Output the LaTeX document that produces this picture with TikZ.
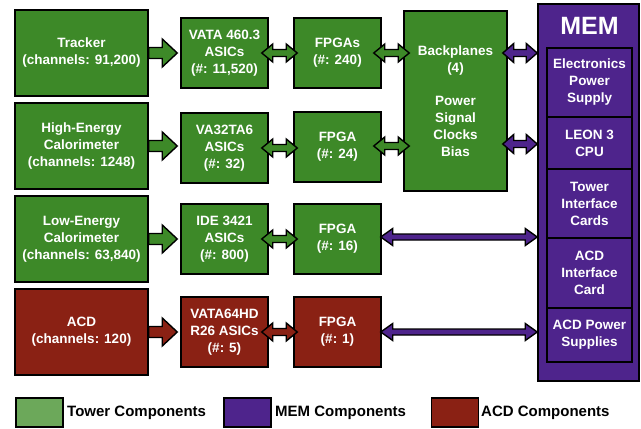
\documentclass[tikz,border=0pt]{standalone}
\usepackage{fontspec}
\setmainfont{Liberation Sans}
\usetikzlibrary{calc}
\definecolor{tgreen}{RGB}{61,137,40}
\definecolor{lgreen}{RGB}{108,168,90}
\definecolor{acdred}{RGB}{138,33,20}
\definecolor{mempurple}{RGB}{78,36,140}
\tikzset{
  box/.style={draw=black,line width=1.5pt,text=white,align=center,inner sep=0pt,
    font=\bfseries\fontsize{13.5}{17}\selectfont},
  gbox/.style={box,fill=tgreen},
  rbox/.style={box,fill=acdred},
  pbox/.style={box,fill=mempurple},
  arrowline/.style={draw=black,line width=1.4pt,line join=miter},
  legsq/.style={draw=black,line width=1.5pt,minimum width=47pt,minimum height=29pt,inner sep=0pt},
  legtext/.style={anchor=west,inner sep=0pt,font=\bfseries\fontsize{15}{18}\selectfont}
}
% from, to, shaft half, head half, head length, colour
\newcommand\fatarrow[6]{\path[arrowline,fill=#6] let \p1=(#1), \p2=(#2) in
  (\x1,\y1+#3) -- (\x2-#5,\y1+#3) -- (\x2-#5,\y1+#4) -- (\x2,\y1) -- (\x2-#5,\y1-#4) -- (\x2-#5,\y1-#3) -- (\x1,\y1-#3) -- cycle;}
\newcommand\dblarrow[6]{\path[arrowline,fill=#6] let \p1=(#1), \p2=(#2) in
  (\x1,\y1) -- (\x1+#5,\y1+#4) -- (\x1+#5,\y1+#3) -- (\x2-#5,\y1+#3) -- (\x2-#5,\y1+#4) -- (\x2,\y1) -- (\x2-#5,\y1-#4) -- (\x2-#5,\y1-#3) -- (\x1+#5,\y1-#3) -- (\x1+#5,\y1-#4) -- cycle;}
\begin{document}
\begin{tikzpicture}[x=1pt,y=-1pt]
\useasboundingbox (0,0) rectangle (641,429);
% detectors
\node[gbox,minimum width=133pt,minimum height=86pt] (trk) at (81.5,53) {Tracker\\(channels: 91,200)};
\node[gbox,minimum width=133pt,minimum height=86pt] (hec) at (81.5,146) {High-Energy\\Calorimeter\\(channels: 1248)};
\node[gbox,minimum width=133pt,minimum height=86pt] (lec) at (81.5,239) {Low-Energy\\Calorimeter\\(channels: 63,840)};
\node[rbox,minimum width=133pt,minimum height=86pt] (acd) at (81.5,332) {ACD\\(channels: 120)};
% ASICs
\node[gbox,minimum width=87pt,minimum height=70pt] (tasic) at (224.5,53) {VATA 460.3\\ASICs\\(\#: 11,520)};
\node[gbox,minimum width=87pt,minimum height=70pt] (hasic) at (224.5,148) {VA32TA6\\ASICs\\(\#: 32)};
\node[gbox,minimum width=87pt,minimum height=70pt] (lasic) at (224.5,239) {IDE 3421\\ASICs\\(\#: 800)};
\node[rbox,minimum width=87pt,minimum height=70pt] (aasic) at (224.5,332) {VATA64HD\\R26 ASICs\\(\#: 5)};
% FPGAs
\node[gbox,minimum width=87pt,minimum height=70pt] (tfpga) at (337.5,53) {FPGAs\\(\#: 240)};
\node[gbox,minimum width=87pt,minimum height=70pt] (hfpga) at (337.5,147) {FPGA\\(\#: 24)};
\node[gbox,minimum width=87pt,minimum height=70pt] (lfpga) at (337.5,239) {FPGA\\(\#: 16)};
\node[rbox,minimum width=87pt,minimum height=70pt] (afpga) at (337.5,332) {FPGA\\(\#: 1)};
% backplanes
\node[gbox,minimum width=103pt,minimum height=180pt] (bp) at (455.5,101) {Backplanes\\(4)\\[16pt]Power\\Signal\\Clocks\\Bias};
% MEM
\node[pbox,minimum width=101pt,minimum height=377pt] (mem) at (588.5,192.5) {};
\node[text=white,font=\bfseries\fontsize{25}{25}\selectfont,inner sep=0pt] (memt) at (589.5,26) {MEM};
\node[pbox,minimum width=85pt,minimum height=69pt] (eps) at (589.5,82.5) {Electronics\\Power\\Supply};
\node[pbox,minimum width=85pt,minimum height=52pt] (leon) at (589.5,143) {LEON 3\\CPU};
\node[pbox,minimum width=85pt,minimum height=69pt] (tic) at (589.5,203.5) {Tower\\Interface\\Cards};
\node[pbox,minimum width=85pt,minimum height=70pt] (aic) at (589.5,273) {ACD\\Interface\\Card};
\node[pbox,minimum width=85pt,minimum height=54pt] (aps) at (589.5,335) {ACD Power\\Supplies};
% fat arrows
\fatarrow{trk.east}{$(tasic.west)+(-3,0)$}{5.5pt}{14pt}{15pt}{tgreen}
\fatarrow{hec.east}{$(hasic.west)+(-3,0)$}{5.5pt}{14pt}{15pt}{tgreen}
\fatarrow{lec.east}{$(lasic.west)+(-3,0)$}{5.5pt}{14pt}{15pt}{tgreen}
\fatarrow{acd.east}{$(aasic.west)+(-3,0)$}{5.5pt}{14pt}{15pt}{acdred}
% ASIC <-> FPGA
\dblarrow{$(tasic.east)+(-7,0)$}{$(tfpga.west)+(4,0)$}{3.5pt}{9pt}{11pt}{tgreen}
\dblarrow{$(hasic.east)+(-7,0)$}{$(hfpga.west)+(4,0)$}{3.5pt}{9pt}{11pt}{tgreen}
\dblarrow{$(lasic.east)+(-7,0)$}{$(lfpga.west)+(4,0)$}{3.5pt}{9pt}{11pt}{tgreen}
\dblarrow{$(aasic.east)+(-7,0)$}{$(afpga.west)+(4,0)$}{3.5pt}{9pt}{11pt}{acdred}
% FPGA <-> backplanes
\dblarrow{$(tfpga.east)+(-8,0)$}{$(bp.west |- tfpga.east)+(6,0)$}{3.5pt}{9pt}{11pt}{tgreen}
\dblarrow{$(hfpga.east)+(-8,-1)$}{$(bp.west |- hfpga.east)+(6,0)$}{3.5pt}{9pt}{11pt}{tgreen}
% backplanes <-> MEM
\dblarrow{$(bp.east |- tfpga.east)+(-5,0)$}{mem.west |- tfpga.east}{3.5pt}{9.5pt}{11pt}{mempurple}
\dblarrow{$(bp.east |- hfpga.east)+(-5,-3)$}{mem.west |- hfpga.east}{3.5pt}{9.5pt}{11pt}{mempurple}
% long FPGA <-> MEM
\dblarrow{$(lfpga.east)+(-1,-2)$}{mem.west |- lfpga.east}{3pt}{8.5pt}{12pt}{mempurple}
\dblarrow{$(afpga.east)+(-1,0)$}{mem.west |- afpga.east}{3pt}{8.5pt}{12pt}{mempurple}
% legend
\node[legsq,fill=lgreen] (lg1) at (39.5,412.5) {};
\node[legtext] (lt1) at (67,412.5) {Tower Components};
\node[legsq,fill=mempurple] (lg2) at (247.5,412.5) {};
\node[legtext] (lt2) at (275,412.5) {MEM Components};
\node[legsq,fill=acdred] (lg3) at (455,412.5) {};
\node[legtext] (lt3) at (481,412.5) {ACD Components};
\end{tikzpicture}
\end{document}
